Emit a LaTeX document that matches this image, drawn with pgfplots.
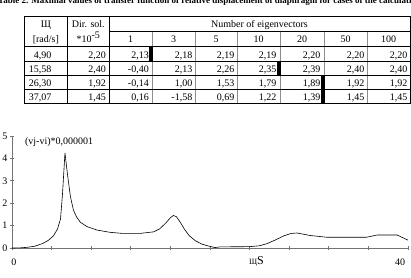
\documentclass[border=0pt]{standalone}
\usepackage{pgfplots}
\pgfplotsset{compat=1.18}
\usepackage{fontspec}
\setmainfont{Liberation Serif}
\newcommand\col[5]{%
  \node[anchor=base east,inner sep=0] at (#1,59) {#2};
  \node[anchor=base east,inner sep=0] at (#1,73) {#3};
  \node[anchor=base east,inner sep=0] at (#1,87) {#4};
  \node[anchor=base east,inner sep=0] at (#1,101) {#5};}
\begin{document}
\fontsize{10bp}{12bp}\selectfont
\begin{tikzpicture}
\path[use as bounding box] (0,0) rectangle (411bp,278bp);
\begin{scope}[x=1bp,y=-1bp,yshift=278bp]
% title (cut at the top)
\node[anchor=base west,inner sep=0,font=\bfseries\fontsize{9bp}{9bp}\selectfont] at (-2,4)
  {Table 2. Maximal values of transfer function of relative displacement of diaphragm for cases of the calculation};
% table grid
\draw[black!45,line width=0.7bp] (152,31)--(152,103.5) (195,31)--(195,103.5) (237,31)--(237,103.5)
  (280,31)--(280,103.5) (324,31)--(324,103.5) (367,31)--(367,103.5);
\draw[line width=0.8bp] (24,16.5) rectangle (410,103.5);
\draw[line width=0.8bp] (109,31)--(410,31) (24,46.5)--(410,46.5) (24,61.5)--(410,61.5)
  (24,75.5)--(410,75.5) (24,89.5)--(410,89.5)
  (67.7,16.5)--(67.7,103.5) (109,16.5)--(109,103.5);
% black markers
\fill (148.5,46.5) rectangle (152.5,61.5);
\fill (276.5,61.5) rectangle (280.5,75.5);
\fill (320.5,75.5) rectangle (324.5,89.5);
\fill (320.5,89.5) rectangle (324.5,103.5);
% header
\tikzset{c/.style={anchor=base,inner sep=0}}
\node[c] at (45.8,28) {Щ};
\node[c] at (45.8,42.5) {[rad/s]};
\node[c] at (88.3,28) {Dir. sol.};
\node[c] at (88.3,43) {*10\raisebox{4.5bp}{-5}};
\node[c] at (259.5,28) {Number of eigenvectors};
\node[c] at (130.5,43) {1};
\node[c] at (173.5,43) {3};
\node[c] at (216,43) {5};
\node[c] at (258.5,43) {10};
\node[c] at (302,43) {20};
\node[c] at (345.5,43) {50};
\node[c] at (388.5,43) {100};
% first two columns
\col{51.5}{4,90}{15,58}{26,30}{37,07}
\col{106}{2,20}{2,40}{1,92}{1,45}
% data
\col{149}{2,13}{-0,40}{-0,14}{0,16}
\col{192.5}{2,18}{2,13}{1,00}{-1,58}
\col{234.5}{2,19}{2,26}{1,53}{0,69}
\col{276.5}{2,19}{2,35}{1,79}{1,22}
\col{320.5}{2,20}{2,39}{1,89}{1,39}
\col{364.5}{2,20}{2,40}{1,92}{1,45}
\col{407.5}{2,20}{2,40}{1,92}{1,45}
\end{scope}
\begin{axis}[at={(12bp,30bp)}, anchor=south west, scale only axis,
  width=396bp, height=112bp, xmin=0, xmax=40, ymin=0, ymax=5,
  axis x line*=bottom, axis y line*=left, clip=false,
  axis line style={black!55,line width=0.8bp},
  xtick={0,4,...,40}, xticklabels={}, ytick={0,1,...,5},
  tick align=center, major tick length=4bp,
  tick style={black!55,line width=0.8bp},
  yticklabel style={font=\fontsize{10bp}{10bp}\selectfont, xshift=1bp},
  /pgf/number format/assume math mode=true]
\addplot[black, line width=0.6bp] coordinates {
(0,0) (0.8,0.005) (1.5,0.03) (2.3,0.08) (3.1,0.2) (3.7,0.35) (4.2,0.55) (4.6,0.85)
(4.9,1.3) (5.1,2.4) (5.35,4.25) (5.6,3.3) (5.9,2.3) (6.2,1.7) (6.5,1.4) (6.9,1.15)
(7.6,0.95) (8.6,0.8) (9.9,0.7) (11.2,0.65) (12.9,0.65) (14.3,0.72) (14.9,0.85)
(15.5,1.1) (16.0,1.35) (16.3,1.45) (16.6,1.4) (17.0,1.15) (17.4,0.85) (17.9,0.55)
(18.5,0.33) (19.2,0.17) (20.0,0.07) (20.5,0.02) (21.0,0.05) (24.0,0.06) (25.0,0.1)
(25.8,0.2) (26.7,0.38) (27.5,0.55) (28.2,0.65) (28.8,0.67) (30.1,0.56) (31.8,0.48)
(35.8,0.48) (36.9,0.58) (38.9,0.58) (40,0.35)};
\node[anchor=west,inner sep=0] at (axis cs:1.3,4.73) {(vj-vi)*0,000001};
\node[inner sep=0] at (axis cs:0.2,-0.62) {0};
\node[inner sep=0] at (axis cs:39.2,-0.62) {40};
\node[inner sep=0] at (axis cs:24.7,-0.6) {{\fontsize{8bp}{8bp}\selectfont Щ}{\fontsize{12bp}{12bp}\selectfont S}};
\end{axis}
\end{tikzpicture}
\end{document}
